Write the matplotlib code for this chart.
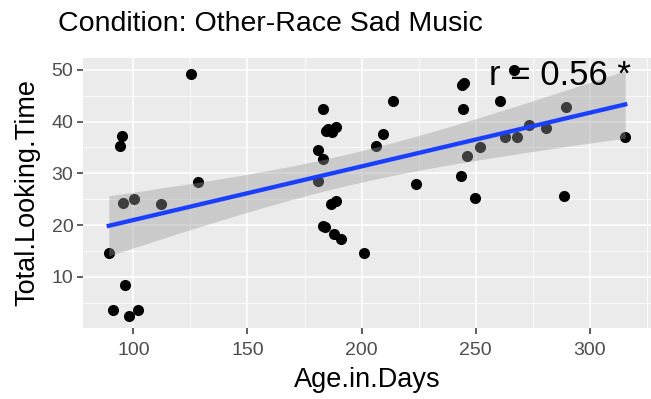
import numpy as np
import matplotlib
matplotlib.use("Agg")
import matplotlib.pyplot as plt
from matplotlib.ticker import MultipleLocator

plt.rcParams['font.family'] = ['Liberation Sans', 'DejaVu Sans']

# infants' age and looking time
age_days = [125.3, 95.0, 94.2, 128.2, 95.3, 100.1, 112.2, 89.2, 96.4, 91.2, 98.2, 102.2,
            182.9, 213.8, 184.6, 185.5, 187.0, 189.0, 209.3, 206.3, 180.9, 182.9,
            181.1, 223.7, 186.7, 188.9, 182.9, 184.2, 188.0, 191.1, 201.2,
            244.1, 245.0, 244.6, 266.9, 260.7, 289.6, 273.6, 280.8, 263.0, 268.1,
            315.6, 251.8, 246.2, 243.6, 249.8, 288.8]
looking_time = [49.2, 37.3, 35.2, 28.4, 24.3, 25.1, 24.1, 14.7, 8.4, 3.6, 2.5, 3.6,
                42.5, 44.0, 38.2, 38.5, 38.0, 38.9, 37.6, 35.2, 34.6, 32.8,
                28.6, 28.0, 24.0, 24.6, 19.8, 19.7, 18.3, 17.3, 14.6,
                47.0, 47.4, 42.4, 49.9, 43.9, 42.9, 39.3, 38.8, 37.1, 37.0,
                37.0, 35.0, 33.3, 29.4, 25.3, 25.6]
r_label = "r = 0.56 *"
title = "Condition: Other-Race Sad Music"

x = np.array(age_days)
y = np.array(looking_time)

# linear fit with 95% confidence band
n = len(x)
slope, intercept = np.polyfit(x, y, 1)
xs = np.linspace(x.min(), x.max(), 80)
fit = intercept + slope * xs
resid = y - (intercept + slope * x)
s = np.sqrt(np.sum(resid ** 2) / (n - 2))
se = s * np.sqrt(1 / n + (xs - x.mean()) ** 2 / np.sum((x - x.mean()) ** 2))
tq = 2.013
lo, hi = fit - tq * se, fit + tq * se

fig = plt.figure(figsize=(6.51, 3.99), dpi=100)
ax = fig.add_axes([83 / 651, 1 - 328 / 399, (651 - 83) / 651, (328 - 58) / 399])
ax.set_facecolor('#EBEBEB')

ax.scatter(x, y, s=64, color='black', zorder=3, linewidths=0)
ax.fill_between(xs, lo, hi, color='#999999', alpha=0.4, linewidth=0, zorder=4)
ax.plot(xs, fit, color='#1A3FFF', linewidth=3.1, zorder=5)
ax.text(256, 47.1, r_label, fontsize=25, va='baseline', ha='left', zorder=6)

xr = x.max() - x.min()
yr = y.max() - y.min()
ax.set_xlim(x.min() - 0.05 * xr, x.max() + 0.05 * xr)
ax.set_ylim(y.min() - 0.05 * yr, y.max() + 0.05 * yr)

ax.xaxis.set_major_locator(MultipleLocator(50))
ax.xaxis.set_minor_locator(MultipleLocator(25))
ax.yaxis.set_major_locator(MultipleLocator(10))
ax.yaxis.set_minor_locator(MultipleLocator(5))
ax.grid(which='major', color='white', linewidth=1.1)
ax.grid(which='minor', color='white', linewidth=0.55)
ax.set_axisbelow(True)
for sp in ax.spines.values():
    sp.set_visible(False)
ax.tick_params(which='major', length=4, width=1.1, color='#333333',
               labelcolor='#4D4D4D', labelsize=14)
ax.tick_params(axis='x', which='major', pad=6)
ax.tick_params(axis='y', which='major', pad=3)
ax.tick_params(which='minor', length=0)

ax.set_xlabel("Age.in.Days", fontsize=19.5, labelpad=6)
ax.set_ylabel("Total.Looking.Time", fontsize=19.5, labelpad=8)
fig.text(58 / 651, 1 - 24 / 399, title, fontsize=20.5, ha='left', va='center')

fig.savefig("out.png", dpi=100)
